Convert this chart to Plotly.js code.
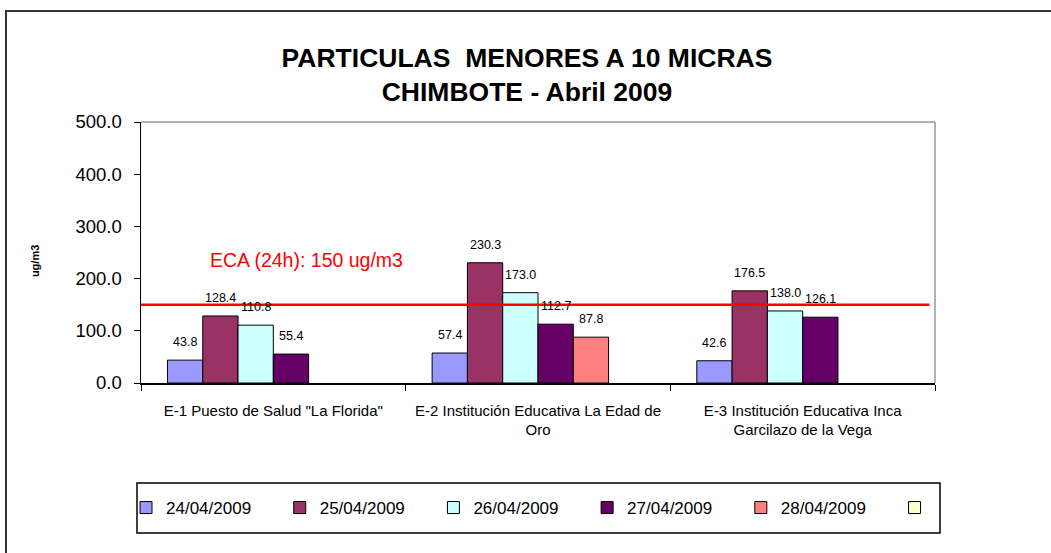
<!DOCTYPE html>
<html><head><meta charset="utf-8">
<script src="https://cdn.plot.ly/plotly-3.0.1.min.js"></script>
<style>
html,body{margin:0;padding:0;background:#fff;}
#frame{position:absolute;left:5px;top:10px;width:1060px;height:560px;border:2px solid #333;box-sizing:border-box;}
#chart{position:absolute;left:0;top:0;width:1051px;height:553px;}
</style></head>
<body>
<div id="frame"></div>
<div id="chart"></div>
<script>
const categories = ['E-1 Puesto de Salud "La Florida"', 'E-2 Institución Educativa La Edad de<br>Oro', 'E-3 Institución Educativa Inca<br>Garcilazo de la Vega'];
const seriesNames = ['24/04/2009', '25/04/2009', '26/04/2009', '27/04/2009', '28/04/2009', ''];
const s1 = [43.8, 57.4, 42.6];
const s2 = [128.4, 230.3, 176.5];
const s3 = [110.8, 173.0, 138.0];
const s4 = [55.4, 112.7, 126.1];
const s5 = [null, 87.8, null];
const s6 = [null, null, null];
const colors = ['#9999FF', '#993366', '#CCFFFF', '#660066', '#FF8080', '#FFFFCC'];
const ecaLimit = 150;
const ecaLabel = 'ECA (24h): 150 ug/m3';

const W = 1051, H = 553;
const M = {l: 141, r: 116, t: 122, b: 170};
const bargap = 0.2;
const series = [s1, s2, s3, s4, s5, s6];
const FONT = 'Liberation Sans, Arial, sans-serif';
const PAD = '\u00a0\u00a0\u00a0\u00a0\u00a0'; // spacing after legend labels

const traces = series.map((vals, i) => ({
  type: 'bar',
  name: seriesNames[i] ? seriesNames[i] + PAD : '',
  x: categories,
  y: vals,
  marker: {color: colors[i], line: {color: '#000', width: 1}},
  hoverinfo: 'skip'
}));

// value labels placed above each bar, positioned through axis scales
const plotW = W - M.l - M.r;
const plotH = H - M.t - M.b;
const barPx = plotW / categories.length * (1 - bargap) / series.length;
const labelAnns = [];
series.forEach((vals, i) => {
  vals.forEach((v, j) => {
    if (v == null) return;
    labelAnns.push({
      text: v.toFixed(1), xref: 'x', yref: 'y', x: categories[j], y: v,
      xshift: (i - (series.length - 1) / 2) * barPx, yshift: 18,
      showarrow: false, xanchor: 'center', yanchor: 'middle',
      font: {family: FONT, size: 12.5, color: '#000'}
    });
  });
});

// pixel helpers for legend box placement (paper coordinates)
const px2x = p => (p - M.l) / plotW;
const px2y = p => (H - M.b - p) / plotH;

const layout = {
  width: W, height: H,
  paper_bgcolor: 'rgba(0,0,0,0)', plot_bgcolor: '#fff',
  margin: Object.assign({autoexpand: false}, M),
  barmode: 'group', bargap: bargap, bargroupgap: 0,
  font: {family: FONT, color: '#000'},
  title: {
    text: '<b>PARTICULAS  MENORES A 10 MICRAS<br>CHIMBOTE - Abril 2009</b>',
    font: {size: 26.5, color: '#000'},
    x: 527 / W, xanchor: 'center', xref: 'container', y: 1 - 67 / H, yanchor: 'middle', yref: 'container'
  },
  xaxis: {
    type: 'category', showgrid: false, showline: true, linecolor: '#000', linewidth: 1.5,
    ticks: 'outside', ticklen: 6, tickcolor: '#000', tickson: 'boundaries',
    tickfont: {size: 15}, ticklabelstandoff: 13, fixedrange: true
  },
  yaxis: {
    range: [0, 500], dtick: 100, tickformat: '.1f', showgrid: false,
    showline: true, linecolor: '#000', linewidth: 1.5, ticks: 'outside', ticklen: 6, tickcolor: '#000',
    tickfont: {size: 18.5}, ticklabelstandoff: 8, zeroline: false, fixedrange: true
  },
  shapes: [
    {type: 'line', xref: 'paper', yref: 'paper', x0: 0, x1: 1, y0: 1, y1: 1, line: {color: '#999', width: 1.5}},
    {type: 'line', xref: 'paper', yref: 'paper', x0: 1, x1: 1, y0: 0, y1: 1, line: {color: '#999', width: 1.5}},
    {type: 'line', xref: 'paper', yref: 'y', x0: 0, x1: 0.993, y0: ecaLimit, y1: ecaLimit, line: {color: '#FF0000', width: 2.5}},
    {type: 'rect', xref: 'paper', yref: 'paper', x0: px2x(137), x1: px2x(940), y0: px2y(533), y1: px2y(483),
     line: {color: '#000', width: 1.5}, fillcolor: 'rgba(0,0,0,0)', layer: 'above'}
  ],
  annotations: [
    {text: ecaLabel, xref: 'paper', yref: 'y', x: 0.208, y: 236, showarrow: false,
     xanchor: 'center', yanchor: 'middle', font: {size: 19.5, color: '#FF0000'}},
    {text: '<b>ug/m3</b>', xref: 'paper', yref: 'paper', x: -0.1335, y: 0.467, showarrow: false,
     xanchor: 'center', yanchor: 'middle', textangle: -90, font: {size: 11, color: '#000'}}
  ].concat(labelAnns),
  legend: {
    orientation: 'h', xref: 'paper', yref: 'paper',
    x: px2x(126), xanchor: 'left', y: px2y(508), yanchor: 'middle',
    borderwidth: 0, bgcolor: 'rgba(0,0,0,0)',
    font: {size: 17, color: '#000'},
    itemwidth: 30, traceorder: 'normal'
  },
  showlegend: true
};

Plotly.newPlot('chart', traces, layout, {displayModeBar: false, staticPlot: true});
</script>
</body></html>
